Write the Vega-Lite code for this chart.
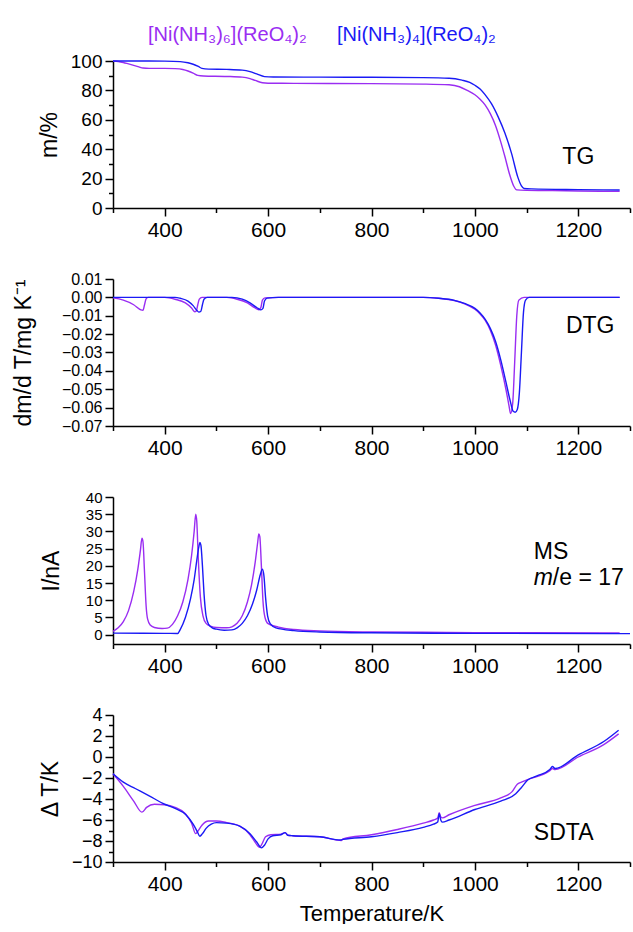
{
  "$schema": "https://vega.github.io/schema/vega-lite/v6.json",
  "background": "white",
  "padding": {"left": 12, "top": 25, "right": 0, "bottom": 0},
  "spacing": 71,
  "bounds": "flush",
  "config": {
    "font": "Liberation Sans",
    "view": {"stroke": null},
    "axis": {
      "domainColor": "#000", "domainWidth": 1.5, "tickColor": "#000", "tickWidth": 1.5,
      "labelFontSize": 21, "labelColor": "#000", "labelPadding": 3, "labelFont": "Liberation Sans",
      "titleFontSize": 23, "titleFontWeight": "normal", "titleColor": "#000", "titlePadding": 9, "titleFont": "Liberation Sans",
      "grid": false
    }
  },
  "datasets": {
    "tg": [
      {"T":300,"v":100,"c":"h6"},{"T":310,"v":99.7,"c":"h6"},{"T":320,"v":99,"c":"h6"},{"T":330,"v":98,"c":"h6"},{"T":340,"v":97,"c":"h6"},{"T":350,"v":96,"c":"h6"},{"T":358,"v":95.2,"c":"h6"},{"T":370,"v":95,"c":"h6"},{"T":400,"v":95,"c":"h6"},{"T":420,"v":94.8,"c":"h6"},{"T":435,"v":94.2,"c":"h6"},{"T":445,"v":93.2,"c":"h6"},{"T":455,"v":91.8,"c":"h6"},{"T":464,"v":90.2,"c":"h6"},{"T":475,"v":89.8,"c":"h6"},{"T":520,"v":89.5,"c":"h6"},{"T":550,"v":89,"c":"h6"},{"T":565,"v":88,"c":"h6"},{"T":575,"v":86.8,"c":"h6"},{"T":589,"v":85.2,"c":"h6"},{"T":600,"v":84.9,"c":"h6"},{"T":650,"v":84.8,"c":"h6"},{"T":800,"v":84.6,"c":"h6"},{"T":900,"v":84.3,"c":"h6"},{"T":950,"v":83.8,"c":"h6"},{"T":970,"v":82.5,"c":"h6"},{"T":985,"v":80,"c":"h6"},{"T":1000,"v":77,"c":"h6"},{"T":1010,"v":74,"c":"h6"},{"T":1020,"v":70,"c":"h6"},{"T":1030,"v":64,"c":"h6"},{"T":1040,"v":56,"c":"h6"},{"T":1050,"v":45,"c":"h6"},{"T":1058,"v":35,"c":"h6"},{"T":1067,"v":23,"c":"h6"},{"T":1075,"v":15,"c":"h6"},{"T":1081,"v":12.3,"c":"h6"},{"T":1100,"v":12,"c":"h6"},{"T":1150,"v":11.8,"c":"h6"},{"T":1200,"v":11.6,"c":"h6"},{"T":1280,"v":11.3,"c":"h6"},
      {"T":300,"v":100,"c":"t4"},{"T":350,"v":100,"c":"t4"},{"T":400,"v":99.9,"c":"t4"},{"T":430,"v":99.6,"c":"t4"},{"T":445,"v":98.8,"c":"t4"},{"T":455,"v":97.8,"c":"t4"},{"T":465,"v":96.3,"c":"t4"},{"T":472,"v":95,"c":"t4"},{"T":485,"v":94.5,"c":"t4"},{"T":520,"v":94.3,"c":"t4"},{"T":550,"v":93.8,"c":"t4"},{"T":565,"v":92.8,"c":"t4"},{"T":578,"v":91.2,"c":"t4"},{"T":593,"v":89.4,"c":"t4"},{"T":610,"v":89.1,"c":"t4"},{"T":700,"v":89,"c":"t4"},{"T":800,"v":88.9,"c":"t4"},{"T":900,"v":88.7,"c":"t4"},{"T":950,"v":88.3,"c":"t4"},{"T":975,"v":87,"c":"t4"},{"T":990,"v":85.5,"c":"t4"},{"T":1000,"v":83.5,"c":"t4"},{"T":1010,"v":81,"c":"t4"},{"T":1020,"v":77,"c":"t4"},{"T":1032,"v":71,"c":"t4"},{"T":1045,"v":62,"c":"t4"},{"T":1058,"v":51,"c":"t4"},{"T":1071,"v":37,"c":"t4"},{"T":1083,"v":21,"c":"t4"},{"T":1090,"v":15,"c":"t4"},{"T":1095,"v":13.3,"c":"t4"},{"T":1110,"v":13,"c":"t4"},{"T":1200,"v":12.5,"c":"t4"},{"T":1280,"v":12.2,"c":"t4"}
    ],
    "dtg": [
      {"T":300,"v":-0.0003,"c":"h6"},{"T":320,"v":-0.0015,"c":"h6"},{"T":340,"v":-0.004,"c":"h6"},{"T":354,"v":-0.0068,"c":"h6"},{"T":358,"v":-0.007,"c":"h6"},{"T":361,"v":-0.004,"c":"h6"},{"T":364,"v":-0.0008,"c":"h6"},{"T":368,"v":0,"c":"h6"},{"T":400,"v":0,"c":"h6"},{"T":420,"v":-0.001,"c":"h6"},{"T":440,"v":-0.003,"c":"h6"},{"T":452,"v":-0.0058,"c":"h6"},{"T":458,"v":-0.0078,"c":"h6"},{"T":461,"v":-0.0075,"c":"h6"},{"T":464,"v":-0.004,"c":"h6"},{"T":467,"v":-0.001,"c":"h6"},{"T":472,"v":0,"c":"h6"},{"T":520,"v":0,"c":"h6"},{"T":540,"v":-0.001,"c":"h6"},{"T":560,"v":-0.003,"c":"h6"},{"T":574,"v":-0.0056,"c":"h6"},{"T":582,"v":-0.0067,"c":"h6"},{"T":586,"v":-0.0055,"c":"h6"},{"T":589,"v":-0.0015,"c":"h6"},{"T":594,"v":-0.0003,"c":"h6"},{"T":620,"v":0,"c":"h6"},{"T":900,"v":0,"c":"h6"},{"T":930,"v":-0.0005,"c":"h6"},{"T":960,"v":-0.0017,"c":"h6"},{"T":980,"v":-0.0035,"c":"h6"},{"T":1000,"v":-0.0065,"c":"h6"},{"T":1010,"v":-0.009,"c":"h6"},{"T":1020,"v":-0.0125,"c":"h6"},{"T":1030,"v":-0.018,"c":"h6"},{"T":1040,"v":-0.026,"c":"h6"},{"T":1050,"v":-0.037,"c":"h6"},{"T":1060,"v":-0.05,"c":"h6"},{"T":1066,"v":-0.059,"c":"h6"},{"T":1069,"v":-0.0632,"c":"h6"},{"T":1073,"v":-0.058,"c":"h6"},{"T":1077,"v":-0.035,"c":"h6"},{"T":1081,"v":-0.01,"c":"h6"},{"T":1085,"v":-0.0015,"c":"h6"},{"T":1095,"v":0,"c":"h6"},{"T":1280,"v":0,"c":"h6"},
      {"T":300,"v":0,"c":"t4"},{"T":420,"v":0,"c":"t4"},{"T":430,"v":-0.0005,"c":"t4"},{"T":445,"v":-0.002,"c":"t4"},{"T":455,"v":-0.0045,"c":"t4"},{"T":462,"v":-0.007,"c":"t4"},{"T":466,"v":-0.008,"c":"t4"},{"T":470,"v":-0.0075,"c":"t4"},{"T":473,"v":-0.004,"c":"t4"},{"T":476,"v":-0.001,"c":"t4"},{"T":482,"v":0,"c":"t4"},{"T":530,"v":0,"c":"t4"},{"T":550,"v":-0.001,"c":"t4"},{"T":565,"v":-0.003,"c":"t4"},{"T":578,"v":-0.0055,"c":"t4"},{"T":586,"v":-0.0068,"c":"t4"},{"T":590,"v":-0.006,"c":"t4"},{"T":593,"v":-0.002,"c":"t4"},{"T":598,"v":-0.0004,"c":"t4"},{"T":620,"v":0,"c":"t4"},{"T":900,"v":0,"c":"t4"},{"T":930,"v":-0.0005,"c":"t4"},{"T":960,"v":-0.0016,"c":"t4"},{"T":980,"v":-0.0033,"c":"t4"},{"T":1000,"v":-0.006,"c":"t4"},{"T":1010,"v":-0.0085,"c":"t4"},{"T":1020,"v":-0.012,"c":"t4"},{"T":1030,"v":-0.017,"c":"t4"},{"T":1040,"v":-0.024,"c":"t4"},{"T":1050,"v":-0.034,"c":"t4"},{"T":1060,"v":-0.046,"c":"t4"},{"T":1068,"v":-0.056,"c":"t4"},{"T":1074,"v":-0.062,"c":"t4"},{"T":1078,"v":-0.0625,"c":"t4"},{"T":1082,"v":-0.061,"c":"t4"},{"T":1086,"v":-0.052,"c":"t4"},{"T":1090,"v":-0.03,"c":"t4"},{"T":1094,"v":-0.008,"c":"t4"},{"T":1098,"v":-0.0015,"c":"t4"},{"T":1105,"v":0,"c":"t4"},{"T":1280,"v":0,"c":"t4"}
    ],
    "ms": [
      {"T":300,"v":1,"c":"h6"},{"T":310,"v":2,"c":"h6"},{"T":320,"v":3.8,"c":"h6"},{"T":330,"v":7,"c":"h6"},{"T":340,"v":12.5,"c":"h6"},{"T":348,"v":19,"c":"h6"},{"T":353,"v":24.5,"c":"h6"},{"T":356,"v":28,"c":"h6"},{"T":358,"v":27,"c":"h6"},{"T":361,"v":18,"c":"h6"},{"T":364,"v":8.5,"c":"h6"},{"T":367,"v":4.5,"c":"h6"},{"T":372,"v":2.8,"c":"h6"},{"T":380,"v":2.1,"c":"h6"},{"T":395,"v":1.8,"c":"h6"},{"T":405,"v":1.9,"c":"h6"},{"T":415,"v":3,"c":"h6"},{"T":425,"v":5.5,"c":"h6"},{"T":435,"v":9.5,"c":"h6"},{"T":445,"v":16,"c":"h6"},{"T":452,"v":23,"c":"h6"},{"T":457,"v":30,"c":"h6"},{"T":460,"v":35,"c":"h6"},{"T":462,"v":33,"c":"h6"},{"T":465,"v":22,"c":"h6"},{"T":469,"v":11,"c":"h6"},{"T":474,"v":5.5,"c":"h6"},{"T":480,"v":3.3,"c":"h6"},{"T":490,"v":2.4,"c":"h6"},{"T":500,"v":2.1,"c":"h6"},{"T":520,"v":2,"c":"h6"},{"T":530,"v":2.3,"c":"h6"},{"T":540,"v":3.3,"c":"h6"},{"T":550,"v":5.5,"c":"h6"},{"T":560,"v":9.5,"c":"h6"},{"T":568,"v":14.5,"c":"h6"},{"T":575,"v":21,"c":"h6"},{"T":580,"v":27,"c":"h6"},{"T":582,"v":29.3,"c":"h6"},{"T":584,"v":28.5,"c":"h6"},{"T":587,"v":20,"c":"h6"},{"T":590,"v":10,"c":"h6"},{"T":594,"v":5,"c":"h6"},{"T":600,"v":3.2,"c":"h6"},{"T":620,"v":2.2,"c":"h6"},{"T":650,"v":1.5,"c":"h6"},{"T":700,"v":1.1,"c":"h6"},{"T":800,"v":0.8,"c":"h6"},{"T":900,"v":0.7,"c":"h6"},{"T":1000,"v":0.6,"c":"h6"},{"T":1100,"v":0.55,"c":"h6"},{"T":1280,"v":0.5,"c":"h6"},
      {"T":300,"v":0.45,"c":"t4"},{"T":400,"v":0.4,"c":"t4"},{"T":425,"v":0.35,"c":"t4"},{"T":430,"v":1.5,"c":"t4"},{"T":440,"v":5,"c":"t4"},{"T":450,"v":10.5,"c":"t4"},{"T":457,"v":16,"c":"t4"},{"T":462,"v":21.5,"c":"t4"},{"T":466,"v":25.5,"c":"t4"},{"T":468,"v":26.8,"c":"t4"},{"T":470,"v":26,"c":"t4"},{"T":473,"v":20,"c":"t4"},{"T":476,"v":12,"c":"t4"},{"T":480,"v":5.5,"c":"t4"},{"T":485,"v":3,"c":"t4"},{"T":492,"v":2,"c":"t4"},{"T":500,"v":1.6,"c":"t4"},{"T":515,"v":1.3,"c":"t4"},{"T":530,"v":1.4,"c":"t4"},{"T":540,"v":2,"c":"t4"},{"T":550,"v":3.3,"c":"t4"},{"T":560,"v":5.5,"c":"t4"},{"T":570,"v":9,"c":"t4"},{"T":578,"v":13,"c":"t4"},{"T":585,"v":17.5,"c":"t4"},{"T":589,"v":19,"c":"t4"},{"T":592,"v":17,"c":"t4"},{"T":595,"v":11,"c":"t4"},{"T":599,"v":5.5,"c":"t4"},{"T":604,"v":3.2,"c":"t4"},{"T":615,"v":2,"c":"t4"},{"T":650,"v":1.2,"c":"t4"},{"T":700,"v":0.8,"c":"t4"},{"T":800,"v":0.55,"c":"t4"},{"T":1000,"v":0.4,"c":"t4"},{"T":1300,"v":0.3,"c":"t4"}
    ],
    "sdta": [
      {"T":300,"v":-1.6,"c":"h6"},{"T":320,"v":-2.8,"c":"h6"},{"T":340,"v":-4.2,"c":"h6"},{"T":356,"v":-5.25,"c":"h6"},{"T":365,"v":-4.8,"c":"h6"},{"T":380,"v":-4.5,"c":"h6"},{"T":400,"v":-4.55,"c":"h6"},{"T":420,"v":-4.8,"c":"h6"},{"T":440,"v":-5.4,"c":"h6"},{"T":452,"v":-6.3,"c":"h6"},{"T":460,"v":-7.3,"c":"h6"},{"T":465,"v":-7.0,"c":"h6"},{"T":472,"v":-6.5,"c":"h6"},{"T":485,"v":-6.1,"c":"h6"},{"T":500,"v":-6.1,"c":"h6"},{"T":520,"v":-6.25,"c":"h6"},{"T":546,"v":-6.6,"c":"h6"},{"T":565,"v":-7.4,"c":"h6"},{"T":576,"v":-8.2,"c":"h6"},{"T":583,"v":-8.6,"c":"h6"},{"T":588,"v":-8.3,"c":"h6"},{"T":595,"v":-7.6,"c":"h6"},{"T":605,"v":-7.4,"c":"h6"},{"T":625,"v":-7.35,"c":"h6"},{"T":633,"v":-7.2,"c":"h6"},{"T":638,"v":-7.45,"c":"h6"},{"T":648,"v":-7.5,"c":"h6"},{"T":700,"v":-7.6,"c":"h6"},{"T":742,"v":-7.95,"c":"h6"},{"T":745,"v":-7.8,"c":"h6"},{"T":800,"v":-7.4,"c":"h6"},{"T":850,"v":-6.9,"c":"h6"},{"T":900,"v":-6.3,"c":"h6"},{"T":920,"v":-6.0,"c":"h6"},{"T":928,"v":-5.8,"c":"h6"},{"T":931,"v":-5.3,"c":"h6"},{"T":934,"v":-5.7,"c":"h6"},{"T":937,"v":-5.8,"c":"h6"},{"T":950,"v":-5.5,"c":"h6"},{"T":1000,"v":-4.6,"c":"h6"},{"T":1050,"v":-3.9,"c":"h6"},{"T":1072,"v":-3.3,"c":"h6"},{"T":1082,"v":-2.6,"c":"h6"},{"T":1090,"v":-2.4,"c":"h6"},{"T":1102,"v":-2.15,"c":"h6"},{"T":1145,"v":-1.3,"c":"h6"},{"T":1150,"v":-1.1,"c":"h6"},{"T":1155,"v":-1.2,"c":"h6"},{"T":1200,"v":0.0,"c":"h6"},{"T":1250,"v":1.2,"c":"h6"},{"T":1278,"v":2.2,"c":"h6"},
      {"T":300,"v":-1.6,"c":"t4"},{"T":320,"v":-2.4,"c":"t4"},{"T":343,"v":-3.0,"c":"t4"},{"T":370,"v":-3.7,"c":"t4"},{"T":400,"v":-4.5,"c":"t4"},{"T":420,"v":-4.9,"c":"t4"},{"T":441,"v":-5.5,"c":"t4"},{"T":455,"v":-6.4,"c":"t4"},{"T":463,"v":-7.1,"c":"t4"},{"T":468,"v":-7.55,"c":"t4"},{"T":473,"v":-7.3,"c":"t4"},{"T":480,"v":-6.8,"c":"t4"},{"T":490,"v":-6.4,"c":"t4"},{"T":500,"v":-6.25,"c":"t4"},{"T":520,"v":-6.3,"c":"t4"},{"T":546,"v":-6.6,"c":"t4"},{"T":565,"v":-7.3,"c":"t4"},{"T":578,"v":-8.1,"c":"t4"},{"T":587,"v":-8.65,"c":"t4"},{"T":593,"v":-8.4,"c":"t4"},{"T":600,"v":-7.8,"c":"t4"},{"T":609,"v":-7.5,"c":"t4"},{"T":625,"v":-7.4,"c":"t4"},{"T":633,"v":-7.2,"c":"t4"},{"T":638,"v":-7.45,"c":"t4"},{"T":648,"v":-7.5,"c":"t4"},{"T":700,"v":-7.6,"c":"t4"},{"T":740,"v":-7.9,"c":"t4"},{"T":745,"v":-7.85,"c":"t4"},{"T":800,"v":-7.6,"c":"t4"},{"T":850,"v":-7.2,"c":"t4"},{"T":900,"v":-6.7,"c":"t4"},{"T":920,"v":-6.4,"c":"t4"},{"T":928,"v":-6.2,"c":"t4"},{"T":931,"v":-5.4,"c":"t4"},{"T":934,"v":-6.0,"c":"t4"},{"T":937,"v":-6.2,"c":"t4"},{"T":950,"v":-6.0,"c":"t4"},{"T":1000,"v":-5.0,"c":"t4"},{"T":1050,"v":-4.2,"c":"t4"},{"T":1079,"v":-3.5,"c":"t4"},{"T":1090,"v":-2.9,"c":"t4"},{"T":1102,"v":-2.2,"c":"t4"},{"T":1120,"v":-1.8,"c":"t4"},{"T":1145,"v":-1.2,"c":"t4"},{"T":1150,"v":-0.9,"c":"t4"},{"T":1155,"v":-1.1,"c":"t4"},{"T":1200,"v":0.2,"c":"t4"},{"T":1250,"v":1.5,"c":"t4"},{"T":1278,"v":2.55,"c":"t4"}
    ]
  },
  "vconcat": [
    {
      "width": 517, "height": 147,
      "resolve": {"axis": {"x": "independent", "y": "independent"}},
      "layer": [
        {
          "data": {"name": "tg"},
          "mark": {"type": "line", "strokeWidth": 1.4, "interpolate": "monotone"},
          "encoding": {
            "x": {"field": "T", "type": "quantitative", "scale": {"domain": [300, 1300], "nice": false, "zero": false},
                  "axis": {"title": null, "format": "d", "ticks": true, "labelOverlap": false, "values": [300,400,500,600,700,800,900,1000,1100,1200,1300], "labelExpr": "datum.value % 200 == 0 ? datum.label : ''", "tickSize": {"condition": {"test": "datum.value % 200 == 0", "value": 8}, "value": 4.5}}},
            "y": {"field": "v", "type": "quantitative", "scale": {"domain": [0, 100], "nice": false, "zero": false},
                  "axis": {"title": "m/%", "format": "d", "ticks": true, "labelFontSize": 19, "labelOverlap": false, "values": [0,10,20,30,40,50,60,70,80,90,100], "labelExpr": "datum.value % 20 == 0 ? datum.label : ''", "tickSize": {"condition": {"test": "datum.value % 20 == 0", "value": 8}, "value": 4.5}}},
            "color": {"field": "c", "type": "nominal", "scale": {"domain": ["h6", "t4"], "range": ["#9a2df2", "#1a1af5"]},
                      "legend": {"orient": "none", "legendX": 15, "legendY": -36, "direction": "horizontal", "title": null,
                                 "labelExpr": "datum.value == 'h6' ? '[Ni(NH₃)₆](ReO₄)₂' : '[Ni(NH₃)₄](ReO₄)₂'",
                                 "labelColor": {"expr": "datum.value == 'h6' ? '#9a2df2' : '#1a1af5'"},
                                 "labelFontSize": 20, "labelFont": "Liberation Sans", "symbolSize": 0, "symbolOpacity": 0, "symbolStrokeWidth": 0,
                                 "labelOffset": 0, "columnPadding": 10, "padding": 0, "labelLimit": 400}}
          }
        },
        {
          "data": {"values": [{}]},
          "mark": {"type": "text", "fontSize": 23, "align": "center", "baseline": "middle", "color": "#000"},
          "encoding": {"x": {"datum": 1200, "type": "quantitative", "axis": null}, "y": {"datum": 34.5, "type": "quantitative", "axis": null}, "text": {"value": "TG"}}
        }
      ]
    },
    {
      "width": 517, "height": 147,
      "resolve": {"axis": {"x": "independent", "y": "independent"}},
      "layer": [
        {
          "data": {"name": "dtg"},
          "mark": {"type": "line", "strokeWidth": 1.4, "interpolate": "monotone"},
          "encoding": {
            "x": {"field": "T", "type": "quantitative", "scale": {"domain": [300, 1300], "nice": false, "zero": false},
                  "axis": {"title": null, "format": "d", "ticks": true, "labelOverlap": false, "values": [300,400,500,600,700,800,900,1000,1100,1200,1300], "labelExpr": "datum.value % 200 == 0 ? datum.label : ''", "tickSize": {"condition": {"test": "datum.value % 200 == 0", "value": 8}, "value": 4.5}}},
            "y": {"field": "v", "type": "quantitative", "scale": {"domain": [-0.07, 0.01], "nice": false, "zero": false},
                  "axis": {"title": "dm/d T/mg K⁻¹", "titlePadding": 26, "format": ".2f", "ticks": true, "tickSize": 8, "labelFontSize": 16, "labelOverlap": false, "values": [-0.07,-0.06,-0.05,-0.04,-0.03,-0.02,-0.01,0,0.01], "labelExpr": "replace(datum.label, '-', '−')"}},
            "color": {"field": "c", "type": "nominal", "scale": {"domain": ["h6", "t4"], "range": ["#9a2df2", "#1a1af5"]}, "legend": null}
          }
        },
        {
          "data": {"values": [{}]},
          "mark": {"type": "text", "fontSize": 23, "align": "center", "baseline": "middle", "color": "#000"},
          "encoding": {"x": {"datum": 1223, "type": "quantitative", "axis": null}, "y": {"datum": -0.0158, "type": "quantitative", "axis": null}, "text": {"value": "DTG"}}
        }
      ]
    },
    {
      "width": 517, "height": 147,
      "resolve": {"axis": {"x": "independent", "y": "independent"}},
      "layer": [
        {
          "data": {"name": "ms"},
          "mark": {"type": "line", "strokeWidth": 1.4, "interpolate": "monotone"},
          "encoding": {
            "x": {"field": "T", "type": "quantitative", "scale": {"domain": [300, 1300], "nice": false, "zero": false},
                  "axis": {"title": null, "format": "d", "ticks": true, "labelOverlap": false, "values": [300,400,500,600,700,800,900,1000,1100,1200,1300], "labelExpr": "datum.value % 200 == 0 ? datum.label : ''", "tickSize": {"condition": {"test": "datum.value % 200 == 0", "value": 8}, "value": 4.5}}},
            "y": {"field": "v", "type": "quantitative", "scale": {"domain": [-2.7, 40], "nice": false, "zero": false},
                  "axis": {"title": "I/nA", "titlePadding": 22, "format": "d", "ticks": true, "tickSize": 8, "labelFontSize": 15, "labelOverlap": false, "values": [0,5,10,15,20,25,30,35,40]}},
            "color": {"field": "c", "type": "nominal", "scale": {"domain": ["h6", "t4"], "range": ["#9a2df2", "#1a1af5"]}, "legend": null}
          }
        },
        {
          "data": {"values": [{}]},
          "mark": {"type": "text", "fontSize": 23, "align": "left", "baseline": "middle", "color": "#000"},
          "encoding": {"x": {"datum": 1114, "type": "quantitative", "axis": null}, "y": {"datum": 23.9, "type": "quantitative", "axis": null}, "text": {"value": "MS"}}
        },
        {
          "data": {"values": [{}]},
          "mark": {"type": "text", "fontSize": 23, "align": "left", "baseline": "middle", "color": "#000", "fontStyle": "italic"},
          "encoding": {"x": {"datum": 1114, "type": "quantitative", "axis": null}, "y": {"datum": 16.6, "type": "quantitative", "axis": null}, "text": {"value": "m"}}
        },
        {
          "data": {"values": [{}]},
          "mark": {"type": "text", "fontSize": 23, "align": "left", "baseline": "middle", "color": "#000", "dx": 19},
          "encoding": {"x": {"datum": 1114, "type": "quantitative", "axis": null}, "y": {"datum": 16.6, "type": "quantitative", "axis": null}, "text": {"value": "/e = 17"}}
        }
      ]
    },
    {
      "width": 517, "height": 147,
      "resolve": {"axis": {"x": "independent", "y": "independent"}},
      "layer": [
        {
          "data": {"name": "sdta"},
          "mark": {"type": "line", "strokeWidth": 1.4, "interpolate": "monotone"},
          "encoding": {
            "x": {"field": "T", "type": "quantitative", "scale": {"domain": [300, 1300], "nice": false, "zero": false},
                  "axis": {"title": "Temperature/K", "titleFontSize": 22, "titlePadding": 9, "format": "d", "ticks": true, "labelOverlap": false, "values": [300,400,500,600,700,800,900,1000,1100,1200,1300], "labelExpr": "datum.value % 200 == 0 ? datum.label : ''", "tickSize": {"condition": {"test": "datum.value % 200 == 0", "value": 8}, "value": 4.5}}},
            "y": {"field": "v", "type": "quantitative", "scale": {"domain": [-10, 4], "nice": false, "zero": false},
                  "axis": {"title": "Δ T/K", "format": "d", "ticks": true, "labelFontSize": 18, "labelOverlap": false, "values": [-10,-9,-8,-7,-6,-5,-4,-3,-2,-1,0,1,2,3,4], "labelExpr": "datum.value % 2 == 0 ? replace(datum.label, '-', '−') : ''", "tickSize": {"condition": {"test": "datum.value % 2 == 0", "value": 8}, "value": 4.5}}},
            "color": {"field": "c", "type": "nominal", "scale": {"domain": ["h6", "t4"], "range": ["#9a2df2", "#1a1af5"]}, "legend": null}
          }
        },
        {
          "data": {"values": [{}]},
          "mark": {"type": "text", "fontSize": 23, "align": "left", "baseline": "middle", "color": "#000"},
          "encoding": {"x": {"datum": 1114, "type": "quantitative", "axis": null}, "y": {"datum": -7.2, "type": "quantitative", "axis": null}, "text": {"value": "SDTA"}}
        }
      ]
    }
  ]
}
